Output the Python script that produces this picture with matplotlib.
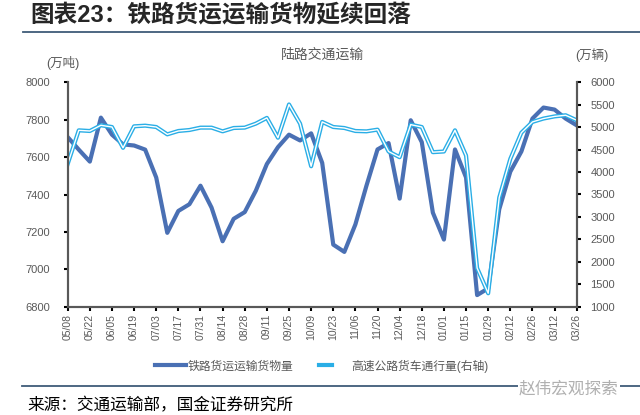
import numpy as np
import matplotlib.pyplot as plt
from matplotlib.lines import Line2D
from matplotlib.legend_handler import HandlerTuple

plt.rcParams['font.family'] = ['Liberation Sans', 'Noto Sans CJK SC']

# weekly data, 05/08 -> 03/26
tick_labels = ['05/08', '05/22', '06/05', '06/19', '07/03', '07/17', '07/31', '08/14',
               '08/28', '09/11', '09/25', '10/09', '10/23', '11/06', '11/20', '12/04',
               '12/18', '01/01', '01/15', '01/29', '02/12', '02/26', '03/12', '03/26']

# 铁路货运运输货物量 (万吨), left axis
rail = [7707, 7640, 7576, 7811, 7720, 7668, 7662, 7640, 7491, 7195, 7312, 7348,
        7447, 7330, 7150, 7270, 7306, 7420, 7563, 7653, 7720, 7689, 7727,
        7569, 7132, 7093, 7240, 7447, 7641, 7675, 7378, 7797, 7680, 7303, 7159,
        7641, 7491, 6862, 6898, 7321, 7522, 7630, 7806, 7865, 7854, 7806, 7770]

# 高速公路货车通行量 (万辆), right axis
truck = [4181, 4930, 4915, 5042, 5004, 4540, 5019, 5034, 5004, 4840, 4915, 4937,
         4990, 4990, 4907, 4982, 4990, 5079, 5207, 4765, 5506, 5079, 4129,
         5117, 5004, 4982, 4915, 4907, 4945, 4458, 4331, 5057, 5004, 4443, 4458,
         4930, 4368, 1861, 1299, 3433, 4293, 4877, 5117, 5192, 5240, 5266, 5154]

dark = '#4a70b4'
light = '#2aaee6'
grey = '#595959'

fig = plt.figure(figsize=(6.4, 4.15), dpi=100)
W, H = 640, 415
ax = fig.add_axes([67.7 / W, 108.3 / H, 509 / W, 224.4 / H])
ax2 = ax.twinx()

x = np.arange(len(rail))
ax.plot(x, rail, color=dark, lw=3)
ax2.plot(x, truck, color=light, lw=3)
ax2.plot(x, truck, color='white', lw=1)

ax.set_xlim(0, len(rail) - 1)
ax.set_ylim(6800, 8000)
ax.set_yticks(np.arange(6800, 8001, 200))
ax2.set_ylim(1000, 6000)
ax2.set_yticks(np.arange(1000, 6001, 500))
ax.set_xticks(x[::2])
ax.set_xticklabels(tick_labels, rotation=90)

for a in (ax, ax2):
    for s in a.spines.values():
        s.set_color('#595959')
        s.set_linewidth(1.5)
    a.spines['top'].set_visible(False)
    a.tick_params(length=3, width=1.5, color='black', labelsize=8, labelcolor=grey)
ax.tick_params(axis='y', pad=10)
ax.tick_params(axis='x', pad=2, labelsize=7.5)
ax2.tick_params(axis='y', pad=7)

# legend
h1 = Line2D([], [], color=dark, lw=3)
h2 = (Line2D([], [], color=light, lw=3), Line2D([], [], color='white', lw=1))
fig.legend([h1, h2], ['铁路货运运输货物量', '高速公路货车通行量(右轴)'],
           loc='center', bbox_to_anchor=(322 / W, 1 - 366 / H), ncol=2, frameon=False,
           handler_map={tuple: HandlerTuple(ndivide=None)},
           handlelength=2.6, handletextpad=0.15, columnspacing=2.2,
           prop={'size': 8.5}, labelcolor=grey)

# texts
fig.text(30 / W, 1 - 15 / H, '图表23：铁路货运运输货物延续回落', fontsize=17,
         fontweight='bold', color='#262626', va='center', ha='left')
fig.add_artist(Line2D([23 / W, 1], [1 - 31.7 / H] * 2, color='#3f5c78', lw=1.3))
fig.text(322 / W, 1 - 55 / H, '陆路交通运输', fontsize=10, color=grey, ha='center', va='center')
fig.text(63 / W, 1 - 63 / H, '(万吨)', fontsize=9, color=grey, ha='center', va='center')
fig.text(592 / W, 1 - 55 / H, '(万辆)', fontsize=9, color=grey, ha='center', va='center')

fig.add_artist(Line2D([22 / W, 1], [1 - 385.7 / H] * 2, color='#3f5c78', lw=1.3))
fig.text(519 / W, 1 - 389 / H, '赵伟宏观探索', fontsize=12, color='#b0b0b0',
         ha='left', va='center', bbox=dict(facecolor='white', edgecolor='none', pad=1))
fig.text(27 / W, 1 - 405 / H, '来源：交通运输部，国金证券研究所', fontsize=12,
         color='black', ha='left', va='center')

fig.savefig('out.png', dpi=100)
